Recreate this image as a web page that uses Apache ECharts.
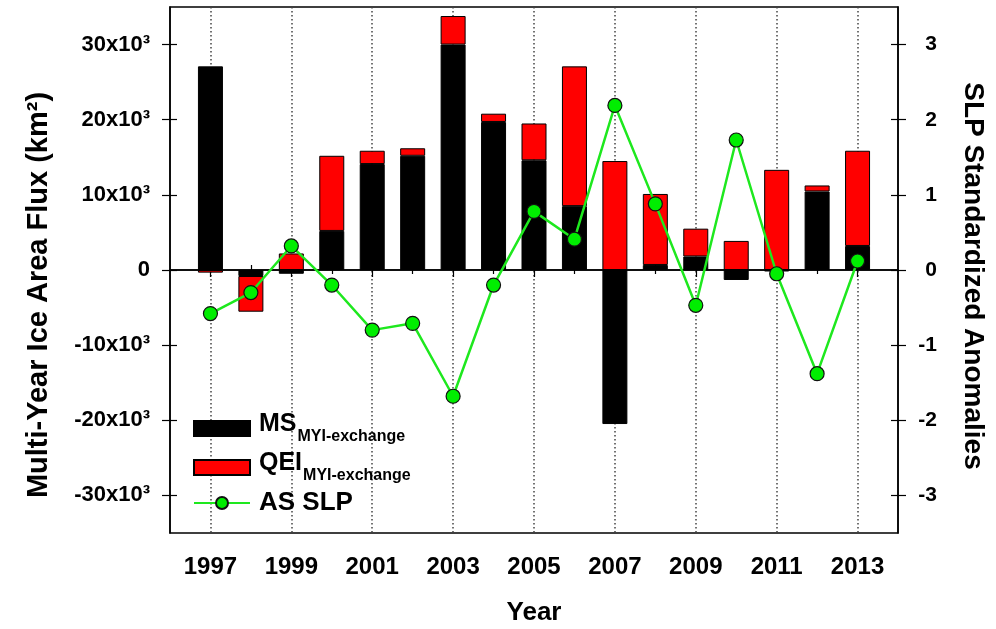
<!DOCTYPE html>
<html>
<head>
<meta charset="utf-8">
<script src="https://cdn.jsdelivr.net/npm/echarts@6/dist/echarts.min.js"></script>
<style>
  html, body { margin: 0; padding: 0; background: #fff; }
  #main { width: 996px; height: 629px; }
</style>
</head>
<body>
<div id="main"></div>
<script>
// categories (1996 and 2014 are empty padding years at the frame edges)
const years = ['1996', '1997', '1998', '1999', '2000', '2001', '2002', '2003', '2004', '2005',
  '2006', '2007', '2008', '2009', '2010', '2011', '2012', '2013', '2014'];

// MS MYI-exchange (km2)
const msData = [null, 27100, -800, -500, 5200, 14100, 15200, 30000, 19700, 14600,
  8500, -20500, 670, 1800, -1330, -200, 10450, 3200, null];

// QEI MYI-exchange (km2), stacked on MS
const qeiData = [null, -350, -4750, 2200, 10000, 1770, 1000, 3800, 1100, 4900,
  18600, 14500, 9450, 3700, 3870, 13330, 800, 12670, null];

// AS SLP standardized anomalies
const slpData = [null, -0.58, -0.30, 0.32, -0.20, -0.80, -0.71, -1.68, -0.20, 0.78,
  0.41, 2.19, 0.88, -0.47, 1.73, -0.05, -1.38, 0.12, null];

const fluxTicks = [-30000, -20000, -10000, 0, 10000, 20000, 30000];
const slpTicks = [-3, -2, -1, 0, 1, 2, 3];

const FONT = 'Liberation Sans';
const isOdd = (i) => Number(years[i]) % 2 === 1;
const isEven = (i) => Number(years[i]) % 2 === 0 && i > 0 && i < years.length - 1;

const chart = echarts.init(document.getElementById('main'));

// extra axes only for ticks that cross the axis line
function xOverlay(inside, filter, len) {
  return {
    type: 'category', data: years, boundaryGap: false, position: 'bottom',
    axisLine: { show: false },
    axisTick: { show: true, inside: inside, length: len, interval: filter,
      lineStyle: { color: '#000', width: 1.2 } },
    axisLabel: { show: false },
    splitLine: { show: false }
  };
}
function yOverlay(pos, min, max, ticks) {
  return {
    type: 'value', position: pos, min: min, max: max,
    axisLine: { show: false },
    axisTick: { show: true, inside: true, length: 7, customValues: ticks,
      lineStyle: { color: '#000', width: 1.2 } },
    axisLabel: { show: false },
    splitLine: { show: false }
  };
}

const option = {
  animation: false,
  backgroundColor: '#fff',
  textStyle: { fontFamily: FONT },
  grid: { left: 170, top: 7, width: 728, height: 526, show: true,
    outerBoundsMode: 'none', containLabel: false,
    borderColor: '#000', borderWidth: 1.5, backgroundColor: 'transparent' },
  legend: {
    data: [
      { name: 'MS', icon: 'rect' },
      { name: 'QEI', icon: 'rect' },
      { name: 'AS SLP' }
    ],
    orient: 'vertical', left: 188, top: 407,
    itemWidth: 56, itemHeight: 15, itemGap: 6,
    formatter: function (name) {
      if (name === 'AS SLP') return '{c|AS SLP}';
      return '{b|' + name + '}{s|MYI-exchange}';
    },
    textStyle: {
      color: '#000', fontWeight: 'bold', fontFamily: FONT,
      rich: {
        b: { fontSize: 25, fontWeight: 'bold', fontFamily: FONT, color: '#000',
          lineHeight: 25, padding: [0, 0, 8, 4] },
        s: { fontSize: 16, fontWeight: 'bold', fontFamily: FONT, color: '#000',
          lineHeight: 16, padding: [16, 0, 0, 1] },
        c: { fontSize: 26, fontWeight: 'bold', fontFamily: FONT, color: '#000',
          lineHeight: 26, padding: [0, 0, 0, 4] }
      }
    }
  },
  xAxis: [
    {
      type: 'category', data: years, boundaryGap: false, position: 'bottom',
      name: 'Year', nameLocation: 'middle', nameGap: 67,
      nameTextStyle: { fontSize: 26, fontWeight: 'bold', color: '#000', fontFamily: FONT },
      axisLine: { show: true, lineStyle: { color: '#000', width: 1.5 } },
      axisTick: { show: true, length: 7, interval: (i) => isOdd(i),
        lineStyle: { color: '#000', width: 1.2 } },
      axisLabel: { show: true, interval: (i) => isOdd(i), margin: 22,
        fontSize: 24, fontWeight: 'bold', color: '#000', fontFamily: FONT },
      splitLine: { show: true, interval: (i) => isOdd(i),
        lineStyle: { color: '#444', type: [1.5, 2.5], width: 1.5 } }
    },
    xOverlay(false, (i) => isEven(i), 4),
    xOverlay(true, (i) => isOdd(i), 8),
    xOverlay(true, (i) => isEven(i), 5)
  ],
  yAxis: [
    {
      type: 'value', position: 'left', min: -35000, max: 35000,
      axisLine: { show: true, lineStyle: { color: '#000', width: 1.5 } },
      axisTick: { show: true, length: 8, customValues: fluxTicks,
        lineStyle: { color: '#000', width: 1.2 } },
      axisLabel: { customValues: fluxTicks, margin: 20, fontSize: 22, fontWeight: 'bold',
        color: '#000', fontFamily: FONT,
        formatter: (v) => v === 0 ? '0' : (v / 1000) + 'x10\u00B3' },
      splitLine: { show: false },
      name: 'Multi-Year Ice Area Flux (km\u00B2)', nameLocation: 'middle', nameGap: 117,
      nameTextStyle: { fontSize: 29, fontWeight: 'bold', color: '#000', fontFamily: FONT,
        padding: [0, 50, 0, 0] }
    },
    {
      type: 'value', position: 'right', min: -3.5, max: 3.5,
      axisLine: { show: true, lineStyle: { color: '#000', width: 1.5 } },
      axisTick: { show: true, length: 8, customValues: slpTicks,
        lineStyle: { color: '#000', width: 1.2 } },
      axisLabel: { customValues: slpTicks, margin: 39, align: 'right', fontSize: 21,
        fontWeight: 'bold', color: '#000', fontFamily: FONT },
      splitLine: { show: false },
      name: 'SLP Standardized Anomalies', nameLocation: 'middle', nameGap: 61, nameRotate: -90,
      nameTextStyle: { fontSize: 28, fontWeight: 'bold', color: '#000', fontFamily: FONT,
        padding: [0, 0, 0, 12] }
    },
    yOverlay('left', -35000, 35000, fluxTicks),
    yOverlay('right', -3.5, 3.5, slpTicks)
  ],
  series: [
    {
      name: 'MS', type: 'bar', stack: 'flux', data: msData, barWidth: 25,
      xAxisIndex: 0, yAxisIndex: 0,
      itemStyle: { color: '#000', borderColor: '#000', borderWidth: 1 },
      markLine: {
        silent: true, symbol: ['none', 'none'], label: { show: false },
        lineStyle: { color: '#000', type: 'solid', width: 1.5 },
        data: [{ yAxis: 0 }]
      }
    },
    {
      name: 'QEI', type: 'bar', stack: 'flux', data: qeiData, barWidth: 25,
      xAxisIndex: 0, yAxisIndex: 0,
      itemStyle: { color: '#ff0000', borderColor: '#000', borderWidth: 1 }
    },
    {
      name: 'AS SLP', type: 'line', data: slpData, xAxisIndex: 0, yAxisIndex: 1,
      symbol: 'circle', symbolSize: 14, z: 5,
      lineStyle: { color: '#1ee81e', width: 2.5 },
      itemStyle: { color: '#00ee00', borderColor: '#111', borderWidth: 1.2 }
    }
  ]
};

chart.setOption(option);
</script>
</body>
</html>
